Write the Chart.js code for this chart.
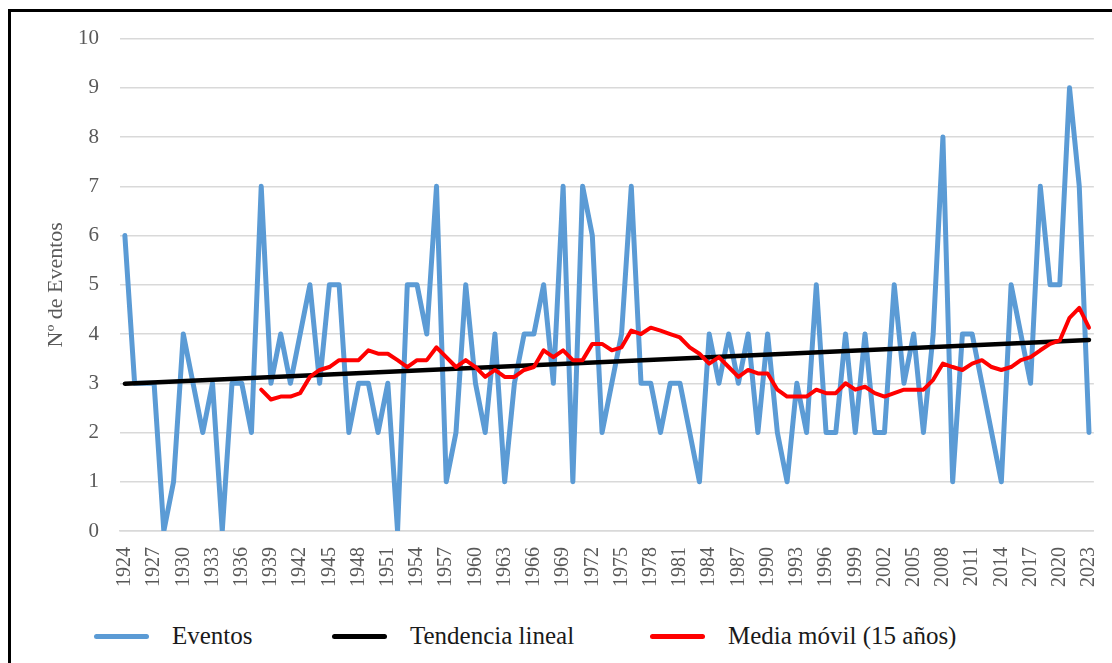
<!DOCTYPE html>
<html>
<head>
<meta charset="utf-8">
<script src="https://cdn.jsdelivr.net/npm/chart.js@4"></script>
<style>
    html, body { margin: 0; padding: 0; background: #fff; }
    body { width: 1112px; height: 663px; position: relative; overflow: hidden; }
    #marco { position: absolute; left: 8px; top: 9px; width: 1110px; height: 660px; border-left: 3px solid #000; border-top: 3px solid #000; }
    #grafico { position: absolute; left: 11px; top: 5px; width: 1118px; height: 598px; }
    #leyenda { position: absolute; top: 621px; left: 0; width: 1112px; height: 30px; font-family: "Liberation Serif", "DejaVu Serif", serif; font-size: 25px; color: #1a1a1a; }
    .item { position: absolute; top: 0; height: 30px; display: flex; align-items: center; white-space: nowrap; }
    .item span.linea { display: inline-block; width: 55px; height: 5px; border-radius: 3px; margin-right: 23px; }
</style>
</head>
<body>
<div id="marco"></div>
<div id="grafico"><canvas id="myChart"></canvas></div>
<div id="leyenda"></div>
<script>
const anios = [];
for (let a = 1924; a <= 2023; a++) anios.push(String(a));

// Nº de eventos por año (1924-2023)
const eventos = [
    6, 3, 3, 3, 0, 1, 4, 3, 2, 3,
    0, 3, 3, 2, 7, 3, 4, 3, 4, 5,
    3, 5, 5, 2, 3, 3, 2, 3, 0, 5,
    5, 4, 7, 1, 2, 5, 3, 2, 4, 1,
    3, 4, 4, 5, 3, 7, 1, 7, 6, 2,
    3, 4, 7, 3, 3, 2, 3, 3, 2, 1,
    4, 3, 4, 3, 4, 2, 4, 2, 1, 3,
    2, 5, 2, 2, 4, 2, 4, 2, 2, 5,
    3, 4, 2, 4, 8, 1, 4, 4, 3, 2,
    1, 5, 4, 3, 7, 5, 5, 9, 7, 2
];

// media móvil de 15 años, empieza en 1938
const mediaMovil = [
    null, null, null, null, null, null, null, null, null, null,
    null, null, null, null, 2.87, 2.67, 2.73, 2.73, 2.80, 3.13,
    3.27, 3.33, 3.47, 3.47, 3.47, 3.67, 3.60, 3.60, 3.47, 3.33,
    3.47, 3.47, 3.73, 3.53, 3.33, 3.47, 3.33, 3.13, 3.27, 3.13,
    3.13, 3.27, 3.33, 3.67, 3.53, 3.67, 3.47, 3.47, 3.80, 3.80,
    3.67, 3.73, 4.07, 4.00, 4.13, 4.07, 4.00, 3.93, 3.73, 3.60,
    3.40, 3.53, 3.33, 3.13, 3.27, 3.20, 3.20, 2.87, 2.73, 2.73,
    2.73, 2.87, 2.80, 2.80, 3.00, 2.87, 2.93, 2.80, 2.73, 2.80,
    2.87, 2.87, 2.87, 3.07, 3.40, 3.33, 3.27, 3.40, 3.47, 3.33,
    3.27, 3.33, 3.47, 3.53, 3.67, 3.80, 3.87, 4.33, 4.53, 4.13
];

// extremos de la tendencia lineal
const tendenciaAnios = ['1924', '2023'];
const tendenciaValores = [2.99, 3.88];

const nombres = ['Eventos', 'Tendencia lineal', 'Media móvil (15 años)'];
const colores = ['#5B9BD5', '#000000', '#FF0000'];
const posLeyenda = [94, 332, 650];

const fuente = '"Liberation Serif", "DejaVu Serif", serif';
const gris = '#595959';
Chart.defaults.font.family = fuente;

const ctx = document.getElementById('myChart');
const myChart = new Chart(ctx, {
    type: 'line',
    data: {
        labels: anios,
        datasets: [
            { label: nombres[0], data: eventos, borderColor: colores[0], backgroundColor: colores[0], borderWidth: 5, order: 3 },
            { label: nombres[1], data: tendenciaAnios.map((a, i) => ({ x: a, y: tendenciaValores[i] })), borderColor: colores[1], backgroundColor: colores[1], borderWidth: 4.5, order: 2 },
            { label: nombres[2], data: mediaMovil, borderColor: colores[2], backgroundColor: colores[2], borderWidth: 4, order: 1, spanGaps: false }
        ]
    },
    options: {
        responsive: true,
        maintainAspectRatio: false,
        animation: false,
        layout: { padding: { left: 20, top: 0, right: 0, bottom: 0 } },
        elements: {
            point: { radius: 0, hoverRadius: 0 },
            line: { tension: 0, borderCapStyle: 'round', borderJoinStyle: 'round', fill: false }
        },
        plugins: { legend: { display: false }, tooltip: { enabled: false } },
        scales: {
            x: {
                offset: true,
                grid: { display: false, drawTicks: false },
                border: { display: true, color: '#d9d9d9', width: 1.5 },
                ticks: {
                    autoSkip: false,
                    minRotation: 90,
                    maxRotation: 90,
                    padding: 16,
                    color: gris,
                    font: { family: fuente, size: 20 },
                    callback: (v, i) => i % 3 === 0 ? anios[i] : null
                },
                afterFit: (scale) => { scale.height = 72; }
            },
            y: {
                min: 0,
                max: 10,
                grid: { color: '#d9d9d9', lineWidth: 1.5, drawTicks: false },
                border: { display: false },
                ticks: { stepSize: 1, padding: 21, color: gris, font: { family: fuente, size: 21 } },
                title: { display: true, text: 'Nº de Eventos', color: gris, font: { family: fuente, size: 22 }, padding: { top: 12, bottom: 9 } },
                afterFit: (scale) => { scale.width = 89; }
            }
        }
    }
});

// leyenda
const leyenda = document.getElementById('leyenda');
nombres.forEach((n, i) => {
    const item = document.createElement('div');
    item.className = 'item';
    item.style.left = posLeyenda[i] + 'px';
    const linea = document.createElement('span');
    linea.className = 'linea';
    linea.style.background = colores[i];
    item.appendChild(linea);
    item.appendChild(document.createTextNode(n));
    leyenda.appendChild(item);
});
</script>
</body>
</html>
